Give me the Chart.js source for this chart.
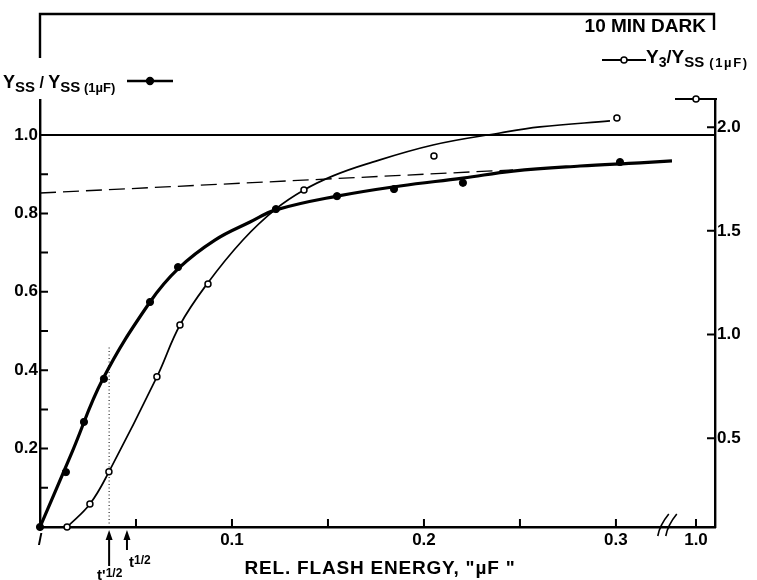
<!DOCTYPE html>
<html>
<head>
<meta charset="utf-8">
<script src="https://cdn.jsdelivr.net/npm/chart.js@4.4.0/dist/chart.umd.min.js"></script>
<style>
  body { margin: 0; background: #fff; }
  canvas { display: block; }
</style>
</head>
<body>
<canvas id="flashChart" width="757" height="580"></canvas>
<script>
// energy axis is linear up to ~0.35 "uF", then broken; 1.0 uF is drawn at BREAK_POS
const BREAK_POS = 0.3417;
const X_MAX = 0.3516;
const BREAK_MARK = 0.327;

// Yss / Yss(1uF) -- filled circles, left axis
const yssEnergy = [0, 0.0135, 0.0229, 0.0333, 0.0573, 0.0719, 0.1229, 0.1547, 0.1844, 0.2203, 0.3021];
const yssValues = [0, 0.140, 0.268, 0.378, 0.574, 0.663, 0.811, 0.844, 0.862, 0.878, 0.931];

// smooth curve drawn through them
const yssFitEnergy = [0, 0.0167, 0.0328, 0.0573, 0.0724, 0.0911, 0.1094, 0.1229, 0.1547, 0.1875, 0.2203, 0.2464, 0.2813, 0.3125, 0.3292];
const yssFitValues = [0, 0.191, 0.378, 0.574, 0.661, 0.732, 0.778, 0.809, 0.844, 0.870, 0.890, 0.908, 0.921, 0.929, 0.934];

// Y3 / Yss(1uF) -- open circles, right axis
const y3Energy = [0.0141, 0.026, 0.0359, 0.0609, 0.0729, 0.0875, 0.1375, 0.2052, 0.3005];
const y3Values = [0.072, 0.183, 0.338, 0.796, 1.046, 1.244, 1.697, 1.861, 2.044];

const y3FitEnergy = [0.0141, 0.026, 0.0359, 0.0609, 0.0729, 0.087, 0.1057, 0.1229, 0.1375, 0.1526, 0.1703, 0.2047, 0.2396, 0.2604, 0.2969];
const y3FitValues = [0.072, 0.183, 0.338, 0.796, 1.046, 1.244, 1.456, 1.606, 1.697, 1.765, 1.823, 1.914, 1.972, 2.001, 2.030];

// Y3 / Yss(1uF) measured at 1.0 uF
const y3OneEnergy = [1.0];
const y3OneValues = [2.136];

// reference level and dashed asymptote
const refEnergy = [0, X_MAX];
const refValues = [1.0, 1.0];
const dashEnergy = [0, 0.2464];
const dashValues = [0.852, 0.911];

// half-saturation energies: t'1/2 and t1/2
const halfTimes = [0.036, 0.0453];
const dottedTop = 0.459;

const xTicks = [0, 0.05, 0.1, 0.15, 0.2, 0.25, 0.3, BREAK_POS];
const xTickLabels = ['/', '', '0.1', '', '0.2', '', '0.3', '1.0'];
const leftTicks = [0.2, 0.4, 0.6, 0.8, 1.0];
const leftMinor = [0.1, 0.3, 0.5, 0.7, 0.9];
const rightTicks = [0.5, 1.0, 1.5, 2.0];

const FONT = '"Liberation Sans", Arial, sans-serif';

function xPos(e) {
  return e >= 1 ? BREAK_POS : e;
}

function pts(xs, ys) {
  return xs.map((x, i) => ({ x: xPos(x), y: ys[i] }));
}

// short line with a circle on it, as used in the key
function dashMarker(filled, w) {
  const c = document.createElement('canvas');
  c.width = w; c.height = 12;
  const g = c.getContext('2d');
  g.strokeStyle = '#000';
  g.lineWidth = filled ? 2.6 : 1.8;
  g.beginPath(); g.moveTo(0, 6); g.lineTo(w, 6); g.stroke();
  g.beginPath(); g.arc(w / 2, 6, filled ? 3.4 : 3, 0, Math.PI * 2);
  g.fillStyle = filled ? '#000' : '#fff';
  g.fill();
  g.lineWidth = 1.5;
  g.stroke();
  return c;
}

const openKey = dashMarker(false, 42);

// text with subscripts: runs of [text, size, dy, letter spacing]
function drawRuns(ctx, x, y, runs) {
  ctx.textAlign = 'left';
  ctx.textBaseline = 'alphabetic';
  runs.forEach(r => {
    ctx.font = 'bold ' + r[1] + 'px ' + FONT;
    ctx.letterSpacing = (r[3] || 0) + 'px';
    ctx.fillText(r[0], x, y + r[2]);
    x += ctx.measureText(r[0]).width;
  });
  ctx.letterSpacing = '0px';
}

const decor = {
  id: 'decor',
  afterDraw(chart) {
    const ctx = chart.ctx;
    const { left, right, bottom } = chart.chartArea;
    const xs = chart.scales.x, yl = chart.scales.y, yr = chart.scales.y2;
    ctx.save();
    ctx.strokeStyle = '#000';
    ctx.fillStyle = '#000';
    ctx.lineCap = 'butt';

    // frame across the top
    ctx.lineWidth = 2.4;
    ctx.beginPath();
    ctx.moveTo(left, 58); ctx.lineTo(left, 14); ctx.lineTo(right - 1, 14); ctx.lineTo(right - 1, 30);
    ctx.stroke();

    ctx.font = 'bold 19px ' + FONT;
    ctx.textAlign = 'right';
    ctx.textBaseline = 'alphabetic';
    ctx.fillText('10 MIN DARK', 706, 32);

    // ticks point into the plot
    ctx.lineWidth = 2;
    ctx.beginPath();
    xTicks.slice(1).forEach(v => {
      const px = xs.getPixelForValue(v);
      ctx.moveTo(px, bottom); ctx.lineTo(px, bottom - 8);
    });
    leftTicks.concat(leftMinor).forEach(v => {
      const py = yl.getPixelForValue(v);
      ctx.moveTo(left, py); ctx.lineTo(left + 8, py);
    });
    rightTicks.forEach(v => {
      const py = yr.getPixelForValue(v);
      ctx.moveTo(right, py); ctx.lineTo(right - 8, py);
    });
    ctx.stroke();

    // axis break
    const bx = xs.getPixelForValue(BREAK_MARK);
    ctx.lineWidth = 1.6;
    ctx.beginPath();
    [-4, 4].forEach(d => {
      ctx.moveTo(bx + d - 6, bottom + 9);
      ctx.quadraticCurveTo(bx + d - 4, bottom - 2, bx + d + 5, bottom - 13);
    });
    ctx.stroke();

    // arrows for the half-saturation energies
    const arrowLen = [36, 20];
    halfTimes.forEach((v, i) => {
      const px = xs.getPixelForValue(v);
      const y0 = bottom + 3;
      ctx.lineWidth = 2;
      ctx.beginPath();
      ctx.moveTo(px, y0 + 6); ctx.lineTo(px, y0 + arrowLen[i]);
      ctx.stroke();
      ctx.beginPath();
      ctx.moveTo(px, y0); ctx.lineTo(px - 3.5, y0 + 10); ctx.lineTo(px + 3.5, y0 + 10);
      ctx.closePath(); ctx.fill();
    });
    const p0 = xs.getPixelForValue(halfTimes[0]);
    const p1 = xs.getPixelForValue(halfTimes[1]);
    drawRuns(ctx, p0 - 12, 580, [["t'", 15, 0], ['1/2', 12, -3]]);
    drawRuns(ctx, p1 + 2, 567, [['t', 15, 0], ['1/2', 12, -3]]);

    // axis title
    ctx.font = 'bold 19px ' + FONT;
    ctx.letterSpacing = '0.8px';
    ctx.textAlign = 'center';
    ctx.fillText('REL. FLASH ENERGY, "\u00B5F "', 380, 574);
    ctx.letterSpacing = '0px';

    // series labels with their keys
    drawRuns(ctx, 3, 88, [['Y', 18, 0], ['SS', 15, 4], [' / ', 16, 0], ['Y', 18, 0], ['SS', 15, 4], [' (1\u00B5F)', 13, 4]]);
    ctx.drawImage(dashMarker(true, 46), 127, 75);
    ctx.drawImage(dashMarker(false, 44), 602, 54);
    drawRuns(ctx, 646, 63, [['Y', 19, 0], ['3', 14, 4], ['/', 18, 0], ['Y', 19, 0], ['SS', 15, 4], [' (1\u00B5F)', 13, 4, 1.6]]);

    ctx.restore();
  }
};

const tickFont = { family: FONT, size: 17, weight: 'bold' };

new Chart(document.getElementById('flashChart'), {
  type: 'scatter',
  data: {
    datasets: [
      {
        label: 'Yss/Yss(1uF)',
        data: pts(yssEnergy, yssValues),
        yAxisID: 'y',
        showLine: false,
        pointRadius: 3.6,
        pointBackgroundColor: '#000',
        pointBorderColor: '#000',
        clip: false,
        order: 0
      },
      {
        label: 'Y3/Yss(1uF)',
        data: pts(y3Energy, y3Values),
        yAxisID: 'y2',
        showLine: false,
        pointRadius: 3,
        pointBorderWidth: 1.5,
        pointBackgroundColor: '#fff',
        pointBorderColor: '#000',
        clip: false,
        order: 0
      },
      {
        label: 'Y3/Yss(1uF) at 1 uF',
        data: pts(y3OneEnergy, y3OneValues),
        yAxisID: 'y2',
        showLine: false,
        pointStyle: openKey,
        clip: false,
        order: 0
      },
      {
        label: 'Yss fit',
        data: pts(yssFitEnergy, yssFitValues),
        yAxisID: 'y',
        showLine: true,
        borderColor: '#000',
        borderWidth: 3.2,
        pointRadius: 0,
        tension: 0.4,
        order: 2
      },
      {
        label: 'Y3 fit',
        data: pts(y3FitEnergy, y3FitValues),
        yAxisID: 'y2',
        showLine: true,
        borderColor: '#000',
        borderWidth: 1.7,
        pointRadius: 0,
        tension: 0.4,
        order: 2
      },
      {
        label: 'reference',
        data: pts(refEnergy, refValues),
        yAxisID: 'y',
        showLine: true,
        borderColor: '#000',
        borderWidth: 1.8,
        pointRadius: 0,
        order: 3
      },
      {
        label: 'asymptote',
        data: pts(dashEnergy, dashValues),
        yAxisID: 'y',
        showLine: true,
        borderColor: '#000',
        borderWidth: 1.3,
        borderDash: [16, 7],
        pointRadius: 0,
        order: 3
      },
      {
        label: "t'1/2",
        data: [{ x: halfTimes[0], y: 0 }, { x: halfTimes[0], y: dottedTop }],
        yAxisID: 'y',
        showLine: true,
        borderColor: '#000',
        borderWidth: 1,
        borderDash: [1, 2.5],
        pointRadius: 0,
        order: 4
      }
    ]
  },
  options: {
    responsive: false,
    animation: false,
    layout: { padding: { top: 100, left: 0, right: 0, bottom: 0 } },
    plugins: { legend: { display: false }, tooltip: { enabled: false } },
    scales: {
      x: {
        type: 'linear',
        min: 0,
        max: X_MAX,
        afterBuildTicks: s => { s.ticks = xTicks.map(v => ({ value: v })); },
        afterFit: s => { s.height = 53; },
        grid: { display: false, drawTicks: false },
        border: { display: true, color: '#000', width: 2.4 },
        ticks: {
          autoSkip: false,
          maxRotation: 0,
          padding: 3,
          color: '#000',
          font: tickFont,
          callback: (v, i) => xTickLabels[i]
        }
      },
      y: {
        position: 'left',
        min: 0,
        max: 1.0893,
        afterBuildTicks: s => { s.ticks = leftTicks.map(v => ({ value: v })); },
        afterFit: s => { s.width = 40; },
        grid: { display: false, drawTicks: false },
        border: { display: true, color: '#000', width: 2.4 },
        ticks: { padding: 2, color: '#000', font: tickFont, callback: v => v.toFixed(1) }
      },
      y2: {
        position: 'right',
        min: 0.072,
        max: 2.131,
        afterBuildTicks: s => { s.ticks = rightTicks.map(v => ({ value: v })); },
        afterFit: s => { s.width = 42; },
        grid: { display: false, drawTicks: false },
        border: { display: true, color: '#000', width: 2.4 },
        ticks: { padding: 2, color: '#000', font: tickFont, callback: v => v.toFixed(1) }
      }
    }
  },
  plugins: [decor]
});
</script>
</body>
</html>
